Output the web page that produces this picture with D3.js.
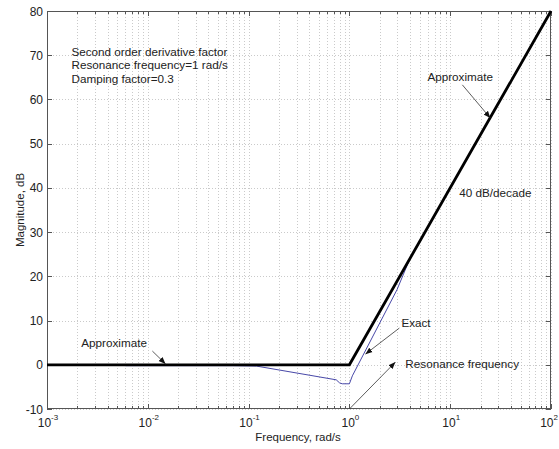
<!DOCTYPE html>
<html><head><meta charset="utf-8">
<script src="https://cdn.jsdelivr.net/npm/d3@7"></script>
<style>
html,body{margin:0;padding:0;background:#fff;}
svg{display:block;font-family:"Liberation Sans",Arial,sans-serif;}
</style></head>
<body><svg id="c" width="559" height="449"></svg>
<script>
// ---- data ----
const approxFreq = [0.001, 1, 100];
const approxDb   = [0, 0, 80];
const exactFreq  = [0.006, 0.07, 0.12, 0.74, 0.8, 0.85, 1.0, 1.07, 2.97, 4, 100];
const exactDb    = [-0.2, -0.2, -0.3, -3.4, -4.1, -4.3, -4.3, -2.5, 17.0, 24.1, 80];
const xTickExp   = [-3, -2, -1, 0, 1, 2];
const yTicks     = [-10, 0, 10, 20, 30, 40, 50, 60, 70, 80];
const infoLines  = ["Second order derivative factor", "Resonance frequency=1 rad/s", "Damping factor=0.3"];
const labelText  = ["Approximate", "40 dB/decade", "Exact", "Resonance frequency", "Approximate"];
const labelFreq  = [5.94, 12.3, 3.28, 3.59, 0.00219];
const labelDb    = [65.1, 38.9, 9.5, 0.2, 4.9];
const arrowFromF = [13.2, null, 3.13, 1, 0.0111];
const arrowFromD = [63.3, null, 8.3, -10, 3.1];
const arrowToF   = [25.0, null, 1.44, 2.86, 0.015];
const arrowToD   = [55.8, null, 2.4, 0.6, 0.2];

// ---- layout ----
const W = 559;
const L = 47, R = 551, T = 11, B = 409;
const svg = d3.select("#c");
const x = d3.scaleLog().domain([1e-3, 1e2]).range([L, R]);
const y = d3.scaleLinear().domain([-10, 80]).range([B, T]);

// minor ticks
const minorX = [];
xTickExp.slice(0, -1).forEach(e => { for (let k = 2; k <= 9; k++) minorX.push(k * Math.pow(10, e)); });
const majorX = xTickExp.map(e => Math.pow(10, e));

const grid = svg.append("g").attr("stroke", "#bcbcbc").attr("stroke-width", 0.8).attr("stroke-dasharray", "1,2");
grid.selectAll("line.gx").data(majorX.concat(minorX)).join("line")
  .attr("x1", d => Math.round(x(d)) + 0.5).attr("x2", d => Math.round(x(d)) + 0.5)
  .attr("y1", T).attr("y2", B);
grid.selectAll("line.gy").data(yTicks).join("line")
  .attr("y1", d => Math.round(y(d)) + 0.5).attr("y2", d => Math.round(y(d)) + 0.5)
  .attr("x1", L).attr("x2", R);

// frame
svg.append("rect").attr("x", L + 0.5).attr("y", T + 0.5).attr("width", R - L - 1).attr("height", B - T - 1)
  .attr("fill", "none").attr("stroke", "#555").attr("stroke-width", 1);

// ticks (inward, all four sides)
const tk = svg.append("g").attr("stroke", "#555").attr("stroke-width", 1);
majorX.forEach(v => {
  const px = Math.round(x(v)) + 0.5;
  tk.append("line").attr("x1", px).attr("x2", px).attr("y1", B).attr("y2", B - 5);
  tk.append("line").attr("x1", px).attr("x2", px).attr("y1", T).attr("y2", T + 5);
});
minorX.forEach(v => {
  const px = Math.round(x(v)) + 0.5;
  tk.append("line").attr("x1", px).attr("x2", px).attr("y1", B).attr("y2", B - 3);
  tk.append("line").attr("x1", px).attr("x2", px).attr("y1", T).attr("y2", T + 3);
});
yTicks.forEach(v => {
  const py = Math.round(y(v)) + 0.5;
  tk.append("line").attr("x1", L).attr("x2", L + 5).attr("y1", py).attr("y2", py);
  tk.append("line").attr("x1", R).attr("x2", R - 5).attr("y1", py).attr("y2", py);
});

// tick labels
const tl = svg.append("g").attr("fill", "#222").attr("font-size", 12);
yTicks.forEach(v => {
  tl.append("text").attr("x", 43).attr("y", y(v) + 4.5).attr("text-anchor", "end").text(v);
});
xTickExp.forEach((e, i) => {
  const last = i === xTickExp.length - 1;
  const t = tl.append("text")
    .attr("x", last ? W - 1 : x(Math.pow(10, e)) + 1).attr("y", 427)
    .attr("text-anchor", last ? "end" : "middle");
  t.append("tspan").text("10");
  t.append("tspan").attr("font-size", 8).attr("dy", -7).text(String(e));
});

// axis titles
svg.append("text").attr("x", 298).attr("y", 441).attr("text-anchor", "middle")
  .attr("font-size", 11.5).attr("fill", "#222").text("Frequency, rad/s");
svg.append("text").attr("transform", "translate(24,210) rotate(-90)").attr("text-anchor", "middle")
  .attr("font-size", 11.5).attr("fill", "#222").text("Magnitude, dB");

// lines
const line = d3.line().x(d => x(d[0])).y(d => y(d[1]));
svg.append("path").datum(exactFreq.map((f, i) => [f, exactDb[i]]))
  .attr("d", line).attr("fill", "none").attr("stroke", "#4848a8").attr("stroke-width", 1);
svg.append("path").datum(approxFreq.map((f, i) => [f, approxDb[i]]))
  .attr("d", line).attr("fill", "none").attr("stroke", "#000").attr("stroke-width", 2.8);

// info text
const info = svg.append("g").attr("font-size", 11.7).attr("fill", "#222");
const infoDb = [70.8, 67.8, 64.6];
infoLines.forEach((s, i) => {
  info.append("text").attr("x", x(0.00175)).attr("y", y(infoDb[i]) + 4).text(s);
});

// annotations
svg.append("defs").append("marker").attr("id", "ah").attr("viewBox", "0 0 10 10")
  .attr("refX", 10).attr("refY", 5).attr("markerWidth", 7).attr("markerHeight", 7)
  .attr("markerUnits", "userSpaceOnUse").attr("orient", "auto")
  .append("path").attr("d", "M0,1 L10,5 L0,9 Z").attr("fill", "#111");
const an = svg.append("g");
labelText.forEach((s, i) => {
  an.append("text").attr("x", x(labelFreq[i])).attr("y", y(labelDb[i]) + 4)
    .attr("font-size", 11.7).attr("fill", "#222").text(s);
  if (arrowFromF[i] !== null) {
    an.append("line").attr("x1", x(arrowFromF[i])).attr("y1", y(arrowFromD[i]))
      .attr("x2", x(arrowToF[i])).attr("y2", y(arrowToD[i]))
      .attr("stroke", "#333").attr("stroke-width", 0.8).attr("marker-end", "url(#ah)");
  }
});
</script></body></html>
